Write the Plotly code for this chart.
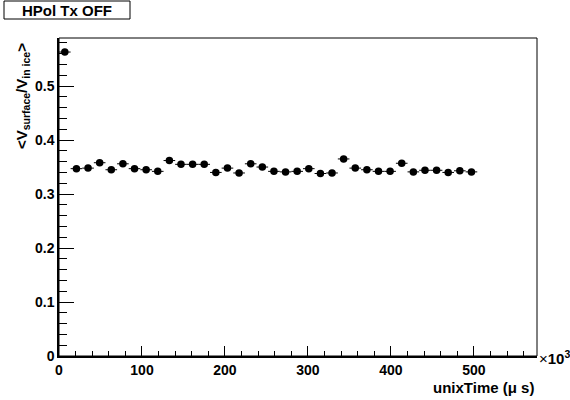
import plotly.graph_objects as go

# Data
bin_centers = [7, 21, 35, 49, 63, 77, 91, 105, 119, 133, 147, 161, 175, 189, 203, 217, 231, 245,
               259, 273, 287, 301, 315, 329, 343, 357, 371, 385, 399, 413, 427, 441, 455, 469, 483, 497]
ratio = [0.563, 0.347, 0.348, 0.358, 0.345, 0.356, 0.347, 0.345, 0.342, 0.362, 0.355, 0.355,
         0.355, 0.340, 0.348, 0.339, 0.356, 0.350, 0.342, 0.341, 0.342, 0.347, 0.338, 0.339,
         0.365, 0.348, 0.345, 0.342, 0.342, 0.357, 0.341, 0.344, 0.344, 0.340, 0.343, 0.341]
bin_halfwidth = [7] * len(bin_centers)
ratio_err = [0.002] * len(bin_centers)

x_ticks = [0, 100, 200, 300, 400, 500]
y_ticks = [0, 0.1, 0.2, 0.3, 0.4, 0.5]

W, H = 570, 400
L, R, T, B = 59, 33, 38, 44
pw, ph = W - L - R, H - T - B

def px2x(px):
    return (px - L) / pw

def px2y(py):
    return (H - B - py) / ph

FONT = "Liberation Sans"

fig = go.Figure()
fig.add_trace(go.Scatter(
    x=bin_centers, y=ratio, mode="markers",
    marker=dict(color="black", size=7.5, symbol="circle"),
    error_x=dict(type="data", array=bin_halfwidth, color="black", thickness=1, width=0),
    error_y=dict(type="data", array=ratio_err, color="black", thickness=1, width=0),
    showlegend=False,
))

axis_common = dict(
    showgrid=False, zeroline=False, showline=True, linecolor="black", linewidth=1.5,
    ticks="inside", tickcolor="black", tickwidth=1,
    tickfont=dict(family=FONT, size=14, color="black", weight="bold"),
)

fig.update_xaxes(
    range=[0, 576], tickvals=x_ticks, ticktext=[str(v) for v in x_ticks], ticklen=10,
    minor=dict(dtick=20, ticks="inside", ticklen=5, tickcolor="black", tickwidth=1),
    **axis_common,
)
fig.update_yaxes(
    range=[0, 0.589], tickvals=y_ticks, ticktext=["0", "0.1", "0.2", "0.3", "0.4", "0.5"], ticklen=15,
    minor=dict(dtick=0.02, tick0=0, ticks="inside", ticklen=8, tickcolor="black", tickwidth=1),
    **axis_common,
)

fig.update_layout(
    width=W, height=H,
    margin=dict(l=L, r=R, t=T, b=B),
    plot_bgcolor="white", paper_bgcolor="white",
    font=dict(family=FONT, color="black"),
    shapes=[
        dict(type="rect", xref="paper", yref="paper", x0=0, x1=1, y0=0, y1=1,
             line=dict(color="black", width=1)),
        dict(type="rect", xref="paper", yref="paper", x0=px2x(4), x1=px2x(130),
             y0=px2y(19), y1=px2y(1), line=dict(color="black", width=1), fillcolor="white"),
    ],
    annotations=[
        dict(text="<b>HPol Tx OFF</b>", xref="paper", yref="paper",
             x=px2x(67), y=px2y(10), xanchor="center", yanchor="middle", showarrow=False,
             font=dict(family=FONT, size=15, color="black")),
        dict(text="<b>&lt;V<sub>surface</sub>/V<sub>in ice</sub>&gt;</b>", xref="paper", yref="paper",
             x=px2x(22), y=px2y(41), xanchor="center", yanchor="top", textangle=-90, showarrow=False,
             font=dict(family=FONT, size=15, color="black")),
        dict(text="<b>unixTime (\u03bc s)</b>", xref="paper", yref="paper",
             x=px2x(536), y=px2y(387), xanchor="right", yanchor="middle", showarrow=False,
             font=dict(family=FONT, size=15, color="black")),
        dict(text="\u00d7<b>10<sup>3</sup></b>", xref="paper", yref="paper",
             x=px2x(537), y=px2y(357), xanchor="left", yanchor="middle", showarrow=False,
             font=dict(family=FONT, size=15, color="black")),
    ],
)

fig.write_html("out.html")
